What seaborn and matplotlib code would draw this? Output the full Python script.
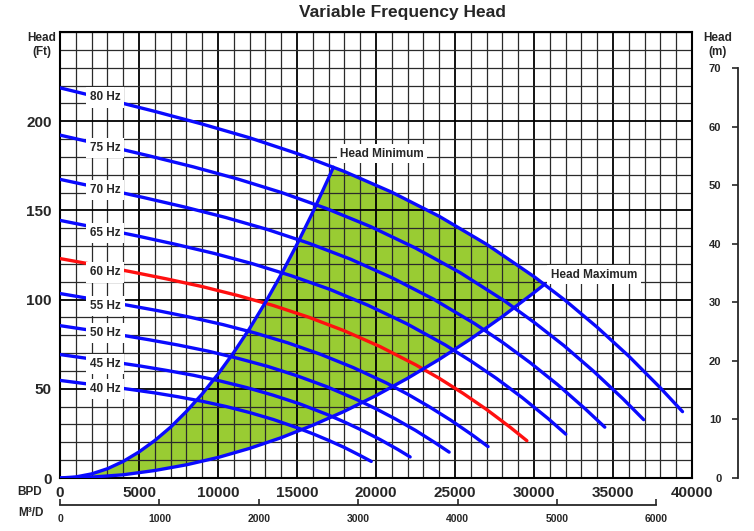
import numpy as np
import pandas as pd
import matplotlib
matplotlib.use("Agg")
import matplotlib.pyplot as plt
import seaborn as sns

sns.set_style("white")
plt.rcParams["font.family"] = ["Liberation Sans", "DejaVu Sans"]
plt.rcParams["font.weight"] = "bold"

# ---- data (flow in BPD, head in ft) ----
q80 = [0, 3000, 6000, 9000, 12000, 15000, 18000, 21000, 24000, 27000, 30000, 32000, 34000, 36000, 38000, 39400]
h80 = [218.7, 212.2, 205.5, 198.4, 190.7, 181.9, 171.8, 160.2, 146.7, 131.0, 112.9, 99.4, 84.5, 68.3, 50.5, 37.2]

q75 = [0, 2810, 5630, 8440, 11250, 14060, 16880, 19690, 22500, 25310, 28130, 30000, 31880, 33750, 35630, 36940]
h75 = [192.2, 186.5, 180.6, 174.4, 167.6, 159.9, 151.0, 140.8, 128.9, 115.2, 99.3, 87.3, 74.3, 60.0, 44.4, 32.7]

q70 = [0, 2630, 5250, 7880, 10500, 13130, 15750, 18380, 21000, 23630, 26250, 28000, 29750, 31500, 33250, 34480]
h70 = [167.4, 162.4, 157.3, 151.9, 146.0, 139.3, 131.6, 122.7, 112.3, 100.3, 86.5, 76.1, 64.7, 52.3, 38.7, 28.5]

q65 = [0, 2440, 4880, 7310, 9750, 12190, 14630, 17060, 19500, 21940, 24380, 26000, 27630, 29250, 30880, 32010]
h65 = [144.4, 140.1, 135.7, 131.0, 125.9, 120.1, 113.4, 105.8, 96.8, 86.5, 74.6, 65.6, 55.8, 45.1, 33.4, 24.6]

q60 = [0, 2250, 4500, 6750, 9000, 11250, 13500, 15750, 18000, 20250, 22500, 24000, 25500, 27000, 28500, 29550]
h60 = [123.0, 119.4, 115.6, 111.6, 107.3, 102.3, 96.7, 90.1, 82.5, 73.7, 63.5, 55.9, 47.5, 38.4, 28.4, 20.9]

q55 = [0, 2060, 4130, 6190, 8250, 10310, 12380, 14440, 16500, 18560, 20630, 22000, 23380, 24750, 26130, 27090]
h55 = [103.4, 100.3, 97.1, 93.8, 90.1, 86.0, 81.2, 75.7, 69.3, 61.9, 53.4, 47.0, 39.9, 32.3, 23.9, 17.6]

q50 = [0, 1880, 3750, 5630, 7500, 9380, 11250, 13130, 15000, 16880, 18750, 20000, 21250, 22500, 23750, 24630]
h50 = [85.4, 82.9, 80.3, 77.5, 74.5, 71.1, 67.1, 62.6, 57.3, 51.2, 44.1, 38.8, 33.0, 26.7, 19.7, 14.5]

q45 = [0, 1690, 3380, 5060, 6750, 8440, 10130, 11810, 13500, 15190, 16880, 18000, 19130, 20250, 21380, 22160]
h45 = [69.2, 67.1, 65.0, 62.8, 60.3, 57.6, 54.4, 50.7, 46.4, 41.5, 35.7, 31.4, 26.7, 21.6, 16.0, 11.8]

q40 = [0, 1500, 3000, 4500, 6000, 7500, 9000, 10500, 12000, 13500, 15000, 16000, 17000, 18000, 19000, 19700]
h40 = [54.7, 53.0, 51.4, 49.6, 47.7, 45.5, 43.0, 40.1, 36.7, 32.8, 28.2, 24.8, 21.1, 17.1, 12.6, 9.3]

qmin = [0, 1000, 2000, 3000, 4000, 5000, 6000, 7000, 8000, 9000, 10000, 11000, 12000, 13000, 14000, 15000, 16000, 17000, 17300]
hmin = [0, 0.6, 2.3, 5.2, 9.3, 14.6, 21.0, 28.5, 37.3, 47.1, 58.2, 70.4, 83.8, 98.4, 114.1, 131.0, 149.0, 168.2, 174.2]

qmax = [0, 2000, 4000, 6000, 8000, 10000, 12000, 14000, 16000, 18000, 20000, 22000, 24000, 26000, 28000, 30000, 30700]
hmax = [0, 0.5, 1.8, 4.2, 7.4, 11.5, 16.6, 22.6, 29.6, 37.4, 46.2, 55.9, 66.5, 78.0, 90.5, 103.9, 108.8]

freq_labels = ["80 Hz", "75 Hz", "70 Hz", "65 Hz", "60 Hz", "55 Hz", "50 Hz", "45 Hz", "40 Hz"]
label_head = [213.3, 185.1, 161.5, 137.3, 115.2, 96.6, 81.4, 63.8, 49.7]
label_q = 2850

bpd_ticks = [0, 5000, 10000, 15000, 20000, 25000, 30000, 35000, 40000]
bpd_minor = list(range(0, 40001, 1000))
ft_ticks = [0, 50, 100, 150, 200]
ft_minor = list(range(0, 251, 10))
m_ticks = [0, 10, 20, 30, 40, 50, 60, 70]
m3d_ticks = [0, 1000, 2000, 3000, 4000, 5000, 6000]

BBL_PER_M3 = 6.28981
FT_PER_M = 3.28084

curves = {
    "80 Hz": (q80, h80), "75 Hz": (q75, h75), "70 Hz": (q70, h70),
    "65 Hz": (q65, h65), "60 Hz": (q60, h60), "55 Hz": (q55, h55),
    "50 Hz": (q50, h50), "45 Hz": (q45, h45), "40 Hz": (q40, h40),
    "Head Minimum": (qmin, hmin), "Head Maximum": (qmax, hmax),
}
rows = []
for name, (qs, hs) in curves.items():
    for q, h in zip(qs, hs):
        rows.append({"curve": name, "BPD": q, "Head": h})
df = pd.DataFrame(rows)

BLUE = "#0a0aff"
RED = "#ff1010"
GREEN = "#99cc33"
palette = {k: BLUE for k in curves}
palette["60 Hz"] = RED

W, H = 754, 531
fig = plt.figure(figsize=(W / 100, H / 100), dpi=100)
x0, x1, y0, y1 = 60, 692, 478, 32
ax = fig.add_axes([x0 / W, 1 - y0 / H, (x1 - x0) / W, (y0 - y1) / H])
ax.set_xlim(0, 40000)
ax.set_ylim(0, 250)

# green operating region: head min -> 80 Hz -> head max
poly_q = list(qmin) + [q for q in q80 if 17300 < q < 30700] + list(qmax[::-1])
poly_h = list(hmin) + [h for q, h in zip(q80, h80) if 17300 < q < 30700] + list(hmax[::-1])
ax.fill(poly_q, poly_h, color=GREEN, lw=0, zorder=0.3)

sns.lineplot(data=df, x="BPD", y="Head", hue="curve", palette=palette,
             estimator=None, sort=False, lw=2.4, legend=False, ax=ax, zorder=3)

ax.set_xticks(bpd_ticks)
ax.set_xticklabels([str(t) for t in bpd_ticks])
ax.set_xticks(bpd_minor, minor=True)
ax.set_yticks(ft_ticks)
ax.set_yticklabels([str(t) for t in ft_ticks])
ax.set_yticks(ft_minor, minor=True)
ax.set_axisbelow(True)
ax.grid(which="minor", color="#2a2a2a", lw=0.9)
ax.grid(which="major", color="black", lw=1.3)
ax.tick_params(which="both", length=0)
ax.tick_params(axis="x", labelsize=11, pad=6)
ax.tick_params(axis="y", labelsize=11, pad=6)
ax.set_xlabel("")
ax.set_ylabel("")
for s in ax.spines.values():
    s.set_color("black")
    s.set_linewidth(1.5)

for lab, hh in zip(freq_labels, label_head):
    ax.text(label_q, hh, lab, ha="center", va="center", fontsize=8.5, fontweight="bold",
            bbox=dict(facecolor="white", edgecolor="none", boxstyle="square,pad=0.35"), zorder=5)
ax.text(20380, 181.7, "Head Minimum", ha="center", va="center", fontsize=8.5, fontweight="bold",
        bbox=dict(facecolor="white", edgecolor="none", boxstyle="square,pad=0.3"), zorder=5)
ax.text(33800, 113.9, "Head Maximum", ha="center", va="center", fontsize=8.5, fontweight="bold",
        bbox=dict(facecolor="white", edgecolor="none", boxstyle="square,pad=0.3"), zorder=5)

# right axis in metres
axm = fig.add_axes([737.7 / W, 1 - y0 / H, 0.0005, (y0 - y1) / H])
axm.set_ylim(0, 250 / FT_PER_M)
axm.set_yticks(m_ticks)
axm.set_yticklabels([str(t) for t in m_ticks])
axm.set_xticks([])
axm.patch.set_alpha(0)
for k in ["top", "right", "bottom"]:
    axm.spines[k].set_visible(False)
axm.spines["left"].set_bounds(0, 70)
axm.spines["left"].set_linewidth(1.3)
axm.tick_params(axis="y", left=True, direction="out", length=4.3, width=1.2,
                labelsize=8, pad=7.5)

# bottom axis in m3/day
axq = fig.add_axes([x0 / W, 1 - 505 / H, (x1 - x0) / W, 0.0005])
axq.set_xlim(0, 40000 / BBL_PER_M3)
axq.set_xticks(m3d_ticks)
axq.set_xticklabels([str(t) for t in m3d_ticks])
axq.set_yticks([])
axq.patch.set_alpha(0)
for k in ["top", "right", "left"]:
    axq.spines[k].set_visible(False)
axq.spines["bottom"].set_bounds(0, 6000)
axq.spines["bottom"].set_linewidth(1.3)
axq.tick_params(axis="x", bottom=True, direction="in", length=4, width=1.2,
                labelsize=7.5, pad=6.5)

fig.text(402 / W, 1 - 13 / H, "Variable Frequency Head", ha="center", va="center",
         fontsize=12.5, fontweight="bold")
fig.text(42 / W, 1 - 45 / H, "Head\n(Ft)", ha="center", va="center", fontsize=8.5,
         fontweight="bold", linespacing=1.15)
fig.text(718 / W, 1 - 45 / H, "Head\n(m)", ha="center", va="center", fontsize=8.5,
         fontweight="bold", linespacing=1.15)
fig.text(30 / W, 1 - 492 / H, "BPD", ha="center", va="center", fontsize=8.5, fontweight="bold")
fig.text(31 / W, 1 - 513 / H, "M³/D", ha="center", va="center", fontsize=8.5, fontweight="bold")

fig.savefig("out.png", dpi=100)
